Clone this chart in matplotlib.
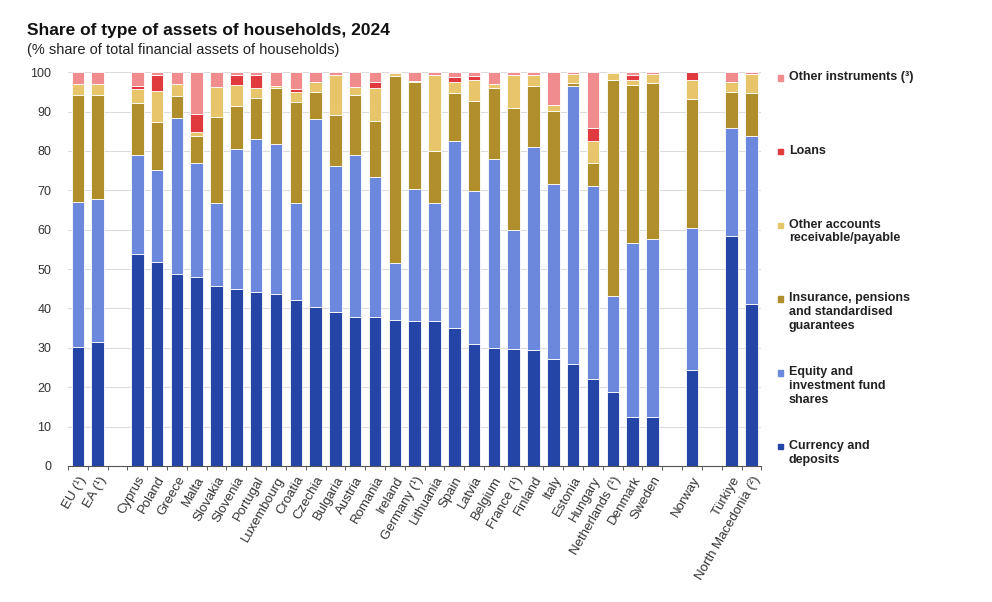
import numpy as np
import matplotlib
matplotlib.use('Agg')
import matplotlib.pyplot as plt
from matplotlib.patches import Rectangle

plt.rcParams['font.family'] = ['Liberation Sans', 'DejaVu Sans']

## categories ('' = empty slot between groups)
countries = ['EU (¹)', 'EA (¹)', '',
             'Cyprus', 'Poland', 'Greece', 'Malta', 'Slovakia', 'Slovenia',
             'Portugal', 'Luxembourg', 'Croatia', 'Czechia', 'Bulgaria',
             'Austria', 'Romania', 'Ireland', 'Germany (¹)', 'Lithuania',
             'Spain', 'Latvia', 'Belgium', 'France (¹)', 'Finland', 'Italy',
             'Estonia', 'Hungary', 'Netherlands (¹)', 'Denmark', 'Sweden', '',
             'Norway', '', 'Türkiye', 'North Macedonia (²)']

## shares in %
currency = [30.3, 31.6, 0,
            53.8, 51.9, 48.7, 47.9, 45.6, 44.9, 44.3, 43.6, 42.2, 40.4, 39.1,
            37.9, 37.9, 37.1, 36.8, 36.7, 35.1, 30.9, 29.9, 29.6, 29.5, 27.1,
            25.9, 22.0, 18.9, 12.5, 12.5, 0,
            24.4, 0, 58.3, 41.1]
equity = [36.8, 36.1, 0,
          25.2, 23.3, 39.6, 29.0, 21.3, 35.5, 38.8, 38.1, 24.5, 47.7, 37.1,
          41.1, 35.6, 14.4, 33.5, 30.0, 47.5, 39.0, 48.1, 30.3, 51.4, 44.5,
          70.6, 49.0, 24.3, 44.1, 45.2, 0,
          36.0, 0, 27.5, 42.6]
insurance = [27.1, 26.5, 0,
             13.1, 12.1, 5.7, 6.9, 21.7, 11.0, 10.3, 14.2, 25.7, 7.0, 13.0,
             15.2, 14.1, 47.6, 27.1, 13.3, 12.1, 22.8, 17.9, 31.0, 15.6, 18.6,
             0.8, 5.9, 54.9, 40.2, 39.5, 0,
             32.7, 0, 9.3, 11.0]
other_acc = [2.8, 2.8, 0,
             3.7, 8.0, 3.0, 1.1, 7.6, 5.4, 2.5, 0.5, 2.7, 2.3, 10.0,
             2.0, 8.3, 0.8, 0.3, 19.3, 2.9, 5.4, 1.1, 8.4, 2.8, 1.5,
             2.3, 5.7, 1.6, 1.3, 2.4, 0,
             5.0, 0, 2.5, 4.9]
loans = [0.0, 0.0, 0,
         0.7, 4.1, 0.0, 4.5, 0.0, 2.5, 3.3, 0.0, 0.6, 0.0, 0.0,
         0.0, 1.7, 0.0, 0.0, 0.0, 1.1, 1.0, 0.0, 0.0, 0.0, 0.0,
         0.0, 3.2, 0.0, 1.2, 0.0, 0,
         1.9, 0, 0.0, 0.0]
other_instr = [100 - a - b - c - d - e if a > 0 else 0
               for a, b, c, d, e in zip(currency, equity, insurance, other_acc, loans)]

series = [currency, equity, insurance, other_acc, loans, other_instr]
labels = ['Currency and\ndeposits',
          'Equity and\ninvestment fund\nshares',
          'Insurance, pensions\nand standardised\nguarantees',
          'Other accounts\nreceivable/payable',
          'Loans',
          'Other instruments (\u00b3)']
colors = ['#2444A6', '#6B88DC', '#B08E2B', '#E8C56A', '#E03A3E', '#F08C8E']

fig = plt.figure(figsize=(9.92, 6.02), dpi=100)
ax = fig.add_axes([0.0685, 0.226, 0.699, 0.654])

x = np.arange(len(countries))
bottom = np.zeros(len(countries))
for vals, col in zip(series, colors):
    vals = np.array(vals)
    ax.bar(x, vals, 0.63, bottom=bottom, color=col, edgecolor='white', linewidth=0.6)
    bottom += vals

ax.set_xlim(-0.5, len(countries) - 0.5)
ax.set_ylim(0, 100)
ax.set_yticks(np.arange(0, 101, 10))
ax.yaxis.grid(True, color='#DCDCDC', linewidth=0.8)
ax.set_axisbelow(True)
for s in ['top', 'right', 'left']:
    ax.spines[s].set_visible(False)
ax.spines['bottom'].set_color('#555555')
ax.tick_params(axis='y', length=0, labelsize=9, colors='#333333', pad=12)

ax.set_xticks(x)
ax.set_xticklabels(countries, rotation=60, ha='right', rotation_mode='anchor',
                   fontsize=9.5, color='#333333')
ax.tick_params(axis='x', which='major', length=0, pad=6)
ax.set_xticks(np.arange(-0.5, len(countries), 1), minor=True)
ax.tick_params(axis='x', which='minor', length=3, color='#444444')

fig.text(0.027, 0.942, 'Share of type of assets of households, 2024',
         fontsize=12.5, fontweight='bold', color='#111111')
fig.text(0.027, 0.910, '(% share of total financial assets of households)',
         fontsize=10.5, color='#222222')

## legend drawn by hand, top entry first
ytop = 0.882
step = 0.1225
for i, (lab, col) in enumerate(zip(labels[::-1], colors[::-1])):
    yy = ytop - i * step
    fig.patches.append(Rectangle((0.784, yy - 0.016), 0.0055, 0.009,
                                 transform=fig.transFigure, color=col))
    fig.text(0.795, yy, lab, fontsize=9, fontweight='bold', color='#222222',
             va='top', linespacing=1.2)

plt.savefig('out.png', dpi=100)
